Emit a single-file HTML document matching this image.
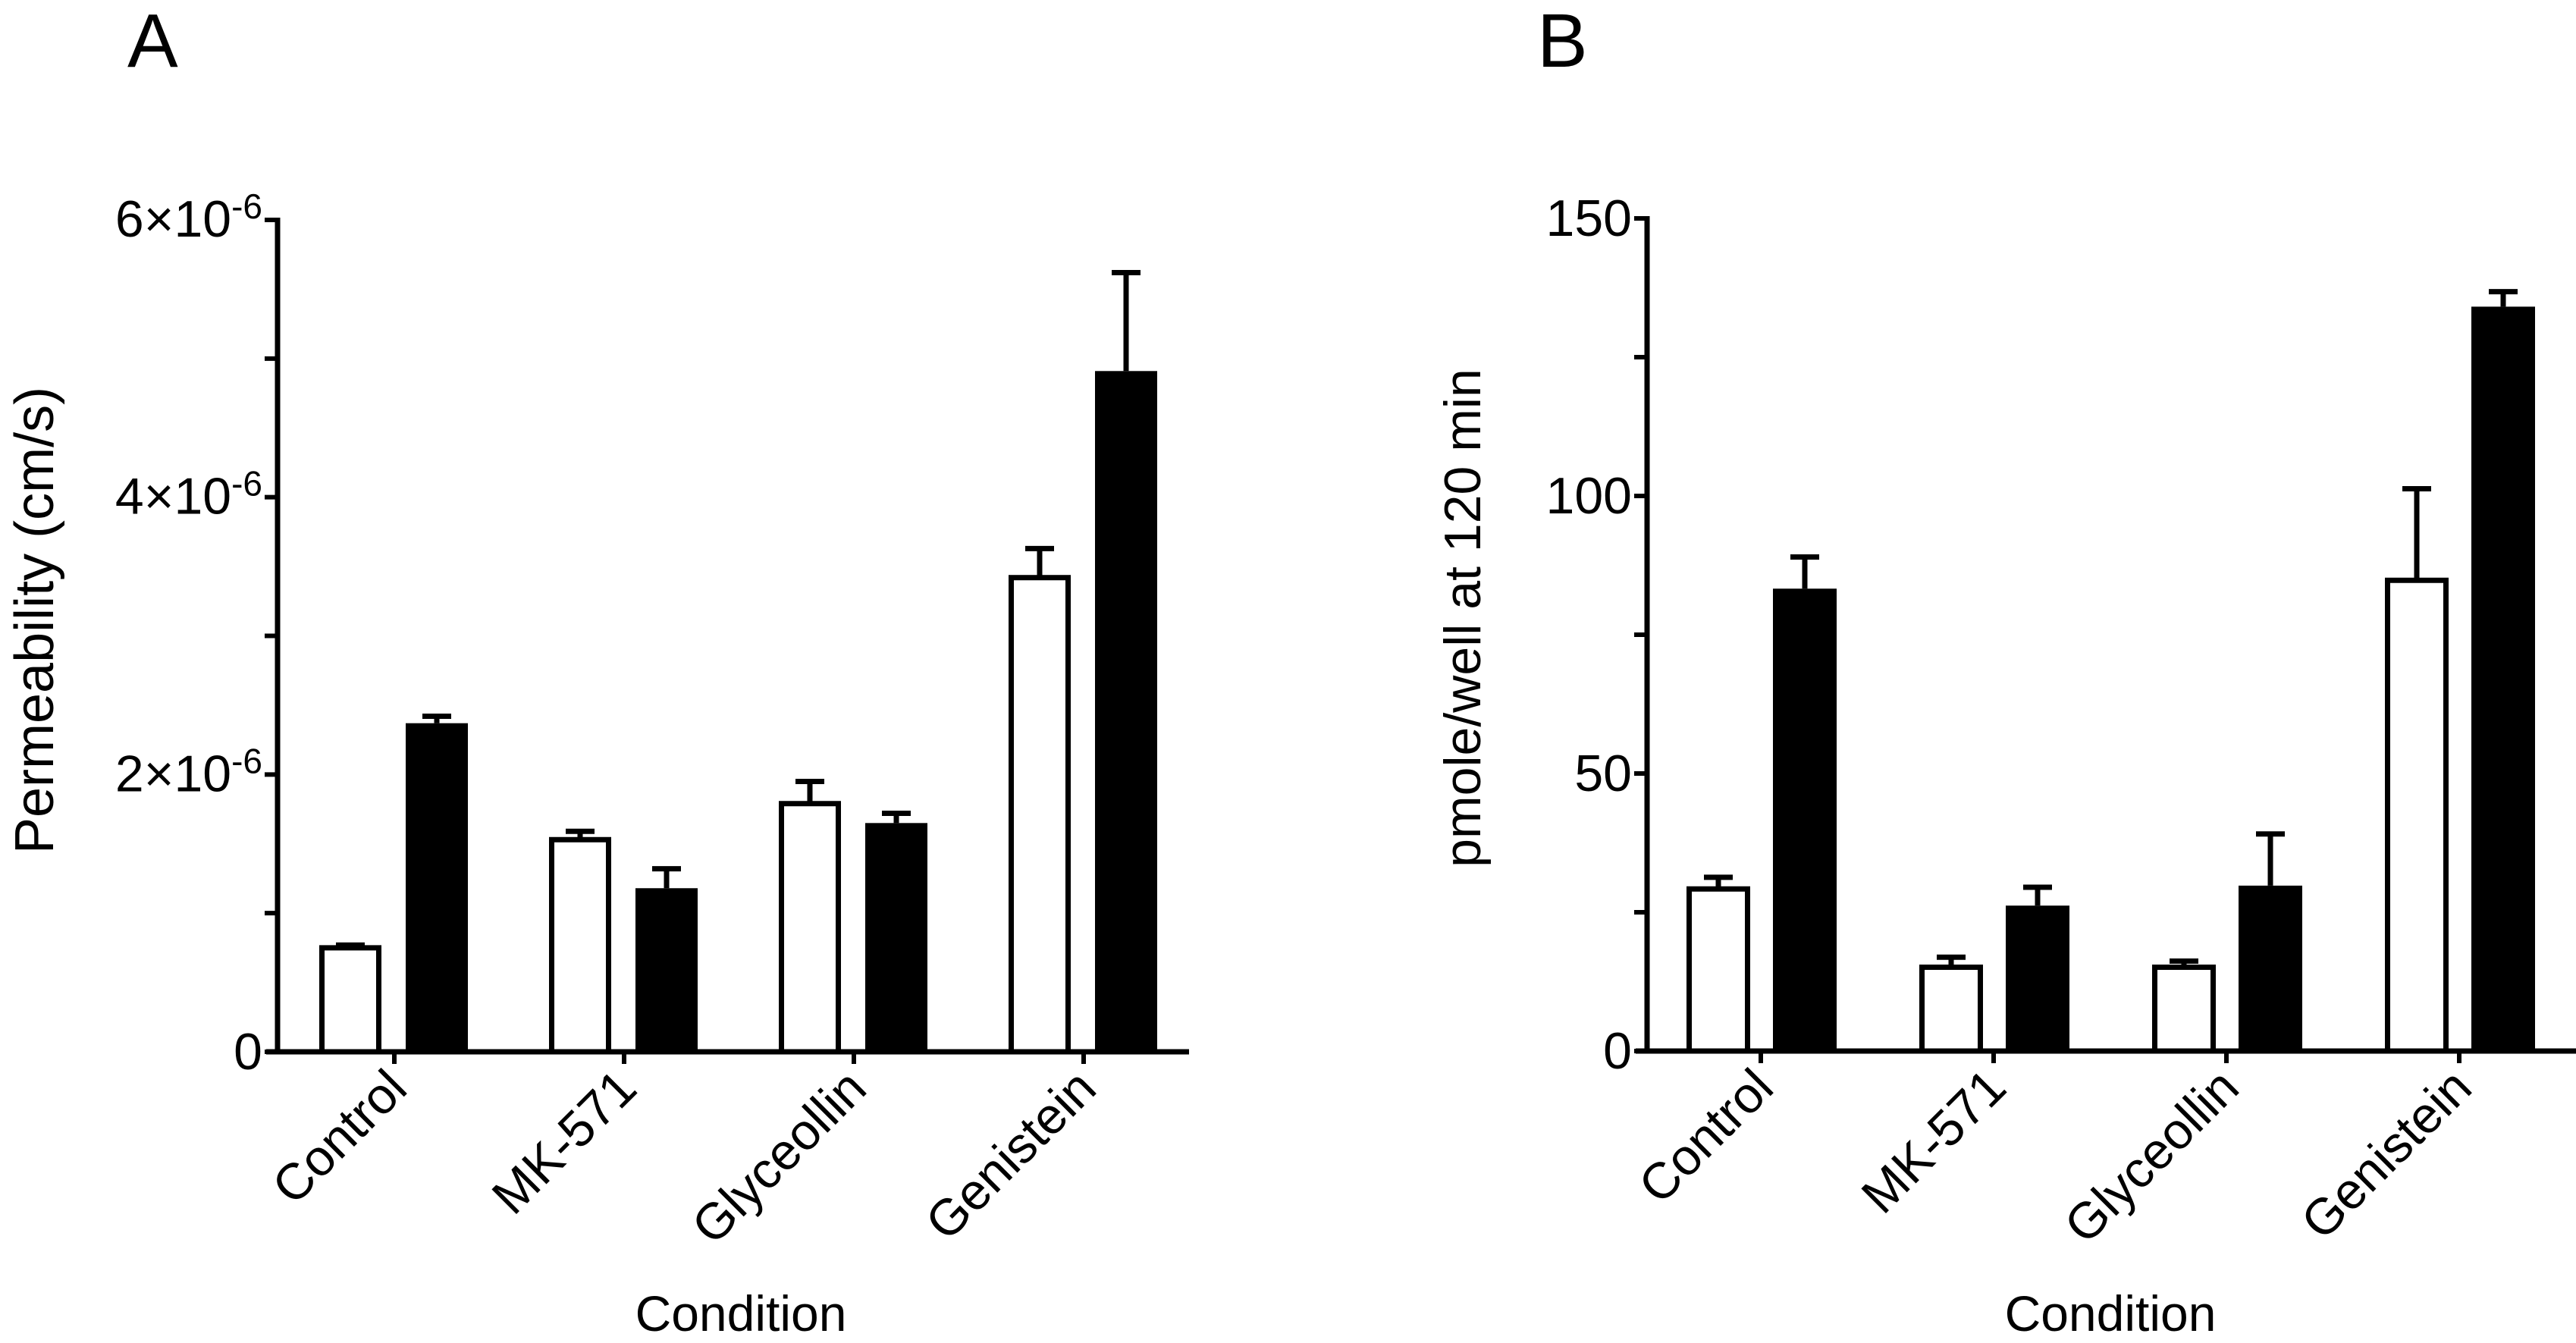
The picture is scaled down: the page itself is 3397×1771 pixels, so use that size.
<!DOCTYPE html>
<html><head><meta charset="utf-8"><style>
html,body{margin:0;padding:0;background:#fff;}
svg{display:block;font-family:"Liberation Sans",Arial,sans-serif;}
</style></head><body>
<svg id="fig" width="3397" height="1771" viewBox="0 0 3397 1771">
<text x="168" y="88" font-size="100">A</text>
<text x="2027" y="88" font-size="100">B</text>
<g id="pa"></g>
<g id="pb"></g>
</svg>
<script>
const categories = ["Control","MK-571","Glyceollin","Genistein"];
const aWhite = [0.75, 1.53, 1.79, 3.42];
const aWhiteErr = [0.02, 0.06, 0.16, 0.21];
const aBlack = [2.37, 1.18, 1.65, 4.91];
const aBlackErr = [0.05, 0.14, 0.07, 0.71];
const aTicks = [0, 2, 4, 6];
const aMinor = [1, 3, 5];
const bWhite = [29.2, 15.1, 15.1, 84.8];
const bWhiteErr = [2.1, 1.8, 1.1, 16.5];
const bBlack = [83.3, 26.2, 29.8, 134.1];
const bBlackErr = [5.7, 3.3, 9.3, 2.7];
const bTicks = [0, 50, 100, 150];
const bMinor = [25, 75, 125];

const NS = "http://www.w3.org/2000/svg";
function mk(parent, tag, attrs, text){
  const e = document.createElementNS(NS, tag);
  for (const k in attrs) e.setAttribute(k, attrs[k]);
  if (text !== undefined) e.textContent = text;
  parent.appendChild(e);
  return e;
}
function draw(cfg){
  const g = document.getElementById(cfg.id);
  const y = v => cfg.y0 - (v / cfg.max) * (cfg.y0 - cfg.yTop);
  const x = i => cfg.x0 + i * cfg.step;
  const LW = 7;
  categories.forEach((c, i) => {
    const cx = x(i);
    const wx = cx + cfg.offW, wt = y(cfg.white[i]);
    const we = mk(g, "line", {x1: wx, x2: wx, y1: wt, y2: y(cfg.white[i] + cfg.whiteErr[i]), stroke: "#000", "stroke-width": LW});
    
    
    const wc = mk(g, "line", {x1: wx - 19, x2: wx + 19, y1: y(cfg.white[i] + cfg.whiteErr[i]), y2: y(cfg.white[i] + cfg.whiteErr[i]), stroke: "#000", "stroke-width": LW});
    
    
    const wr = mk(g, "rect", {x: wx - cfg.bw / 2 + LW / 2, y: wt, width: cfg.bw - LW, height: cfg.y0 - wt, fill: "#fff", stroke: "#000", "stroke-width": LW});
    
    
    const bx = cx + cfg.offB, bt = y(cfg.black[i]);
    const be = mk(g, "line", {x1: bx, x2: bx, y1: bt, y2: y(cfg.black[i] + cfg.blackErr[i]), stroke: "#000", "stroke-width": LW});
    
    
    const bc = mk(g, "line", {x1: bx - 19, x2: bx + 19, y1: y(cfg.black[i] + cfg.blackErr[i]), y2: y(cfg.black[i] + cfg.blackErr[i]), stroke: "#000", "stroke-width": LW});
    
    
    const br = mk(g, "rect", {x: bx - cfg.bw / 2, y: bt, width: cfg.bw, height: cfg.y0 - bt, fill: "#000"});
    
    
    const t = mk(g, "line", {x1: cx, x2: cx, y1: cfg.y0, y2: cfg.y0 + 16, stroke: "#000", "stroke-width": 6});
    
    
    const lx = cx + 20, ly = cfg.y0 + 52;
    const lab = mk(g, "text", {x: lx, y: ly, "font-size": 67, "text-anchor": "end", transform: "rotate(-45 " + lx + " " + ly + ")"}, c);
    
    
  });
  const ya = mk(g, "line", {x1: cfg.axX, x2: cfg.axX, y1: cfg.yTop - 3, y2: cfg.y0 + 3, stroke: "#000", "stroke-width": 7});
  
  
  const xa = mk(g, "line", {x1: cfg.axX - 15, x2: cfg.xEnd, y1: cfg.y0, y2: cfg.y0, stroke: "#000", "stroke-width": 7});
  
  
  cfg.ticks.forEach((v, k) => {
    const ty = y(v);
    const tl = mk(g, "line", {x1: cfg.axX - 17, x2: cfg.axX, y1: ty, y2: ty, stroke: "#000", "stroke-width": 6});
    
    
    const txt = mk(g, "text", {x: cfg.axX - 20, y: ty + 23, "font-size": 68, "text-anchor": "end"});
    
    
    if (cfg.sci && v !== 0) {
      txt.setAttribute('y', ty + 22);
      mk(txt, "tspan", {}, v + "\u00d710");
      mk(txt, "tspan", {"font-size": 46, dy: -24}, "-6");
    } else {
      txt.textContent = v;
    }
  });
  cfg.minor.forEach(v => {
    const ty = y(v);
    const tl = mk(g, "line", {x1: cfg.axX - 17, x2: cfg.axX, y1: ty, y2: ty, stroke: "#000", "stroke-width": 6});
    
    
  });
  const yt = mk(g, "text", {x: cfg.ytX, y: cfg.ytY, "font-size": cfg.ytSize, "text-anchor": "middle", "xml:space": "preserve", transform: "rotate(-90 " + cfg.ytX + " " + cfg.ytY + ")"}, cfg.ytitle);
  
  
  const xt = mk(g, "text", {x: cfg.xtX, y: 1755, "font-size": 66, "text-anchor": "middle"}, "Condition");
  
  
}
draw({id: "pa", x0: 520, step: 303, offW: -58, offB: 56, bw: 82, y0: 1387, yTop: 290, max: 6,
  white: aWhite, whiteErr: aWhiteErr, black: aBlack, blackErr: aBlackErr, ticks: aTicks, minor: aMinor,
  axX: 366, xEnd: 1568, sci: true, ytitle: "Permeability  (cm/s)", ytSize: 72, ytX: 70, ytY: 818, xtX: 977});
draw({id: "pb", x0: 2322, step: 307, offW: -56, offB: 58, bw: 84, y0: 1386, yTop: 288, max: 150,
  white: bWhite, whiteErr: bWhiteErr, black: bBlack, blackErr: bBlackErr, ticks: bTicks, minor: bMinor,
  axX: 2172, xEnd: 3397, sci: false, ytitle: "pmole/well at 120 min", ytSize: 68, ytX: 1952, ytY: 815, xtX: 2783});
</script>
</body></html>
